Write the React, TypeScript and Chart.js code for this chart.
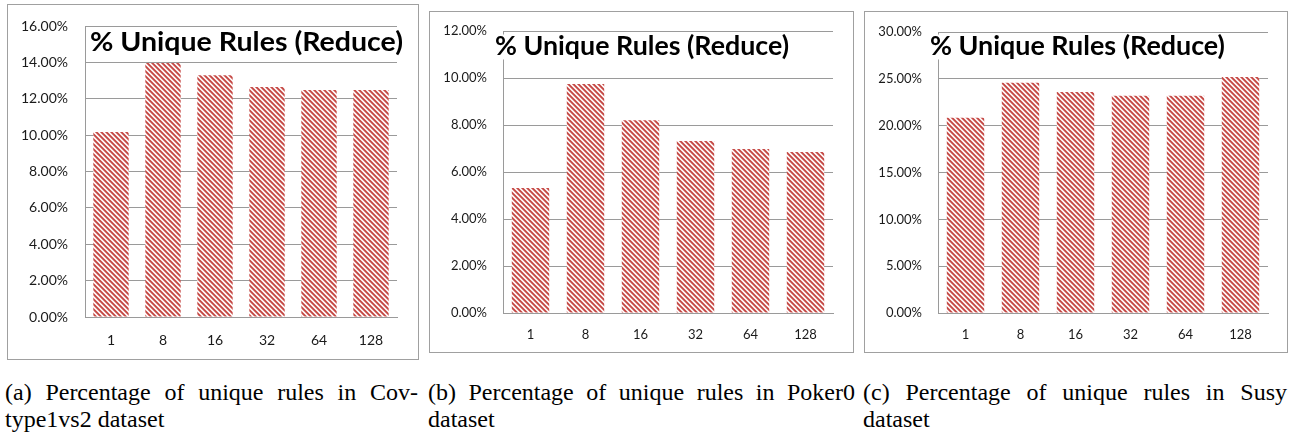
import React, { useEffect, useRef } from "react";
import { Chart, registerables } from "chart.js";

Chart.register(...registerables);

const categories = ["1", "8", "16", "32", "64", "128"];
const covtypeValues = [10.17, 13.97, 13.29, 12.65, 12.48, 12.48];
const pokerValues = [5.32, 9.74, 8.2, 7.32, 6.98, 6.85];
const susyValues = [20.85, 24.57, 23.6, 23.19, 23.19, 25.2];
const covtypeTicks = { max: 16, step: 2 };
const pokerTicks = { max: 12, step: 2 };
const susyTicks = { max: 30, step: 5 };
const chartTitle = "% Unique Rules (Reduce)";
const captionA = ["(a) Percentage of unique rules in Cov-", "type1vs2 dataset"];
const captionB = ["(b) Percentage of unique rules in Poker0", "dataset"];
const captionC = ["(c) Percentage of unique rules in Susy", "dataset"];

function makePattern(ctx: CanvasRenderingContext2D) {
  const P = 5;
  const t = document.createElement("canvas");
  t.width = P;
  t.height = P;
  const c = t.getContext("2d")!;
  const img = c.createImageData(P, P);
  const ss = 4;
  for (let y = 0; y < P; y++) {
    for (let x = 0; x < P; x++) {
      let cov = 0;
      for (let sy = 0; sy < ss; sy++) {
        for (let sx = 0; sx < ss; sx++) {
          const px = x + (sx + 0.5) / ss;
          const py = y + (sy + 0.5) / ss;
          const k = (((px - py) % P) + P) % P;
          if (k < 2.7) cov++;
        }
      }
      const a = cov / (ss * ss);
      const i = (y * P + x) * 4;
      img.data[i] = Math.round(255 + (0xc6 - 255) * a);
      img.data[i + 1] = Math.round(255 + (0x4a - 255) * a);
      img.data[i + 2] = Math.round(255 + (0x46 - 255) * a);
      img.data[i + 3] = 255;
    }
  }
  c.putImageData(img, 0, 0);
  return ctx.createPattern(t, "repeat")!;
}

type PanelProps = {
  values: number[];
  ticks: { max: number; step: number };
  box: { left: number; top: number; width: number; height: number };
  axisW: number;
  axisH: number;
  padT: number;
  padR: number;
  yPad: number;
  xPad: number;
  fontSize: number;
  title: { x: number; y: number; w: number; size: number };
};

function Panel(p: PanelProps) {
  const ref = useRef<HTMLCanvasElement>(null);
  useEffect(() => {
    const canvas = ref.current!;
    const ctx = canvas.getContext("2d")!;
    const pattern = makePattern(ctx);
    const titlePlugin = {
      id: "boxTitle",
      afterDraw(chart: any) {
        const c = chart.ctx as CanvasRenderingContext2D;
        c.save();
        c.font = `bold ${p.title.size}px Lato`;
        const m = c.measureText(chartTitle);
        const sx = p.title.w / m.width;
        c.fillStyle = "#fff";
        c.fillRect(p.title.x - 2, p.title.y - p.title.size * 0.48, p.title.w + 4, p.title.size * 0.96);
        c.translate(p.title.x, p.title.y);
        c.scale(sx, 1);
        c.fillStyle = "#000";
        c.textBaseline = "middle";
        c.textAlign = "left";
        c.fillText(chartTitle, 0, 0);
        c.restore();
      },
    };
    const chart = new Chart(canvas, {
      type: "bar",
      data: {
        labels: categories,
        datasets: [
          {
            data: p.values,
            backgroundColor: pattern as any,
            borderWidth: 0,
            categoryPercentage: 1,
            barPercentage: 0.68,
          },
        ],
      },
      options: {
        responsive: false,
        animation: false,
        devicePixelRatio: 1,
        layout: { padding: { left: 0, right: p.padR, top: p.padT, bottom: 0 } },
        plugins: { legend: { display: false }, tooltip: { enabled: false }, title: { display: false } },
        scales: {
          x: {
            grid: {
              drawOnChartArea: false,
              drawTicks: true,
              tickLength: p.xPad,
              tickColor: "rgba(0,0,0,0)",
            },
            border: { display: true, color: "#9a9a9a", width: 1 },
            ticks: {
              color: "#1a1a1a",
              padding: 0,
              font: { family: "Lato", size: p.fontSize },
              maxRotation: 0,
            },
            afterFit: (s: any) => {
              s.height = p.axisH;
            },
          },
          y: {
            min: 0,
            max: p.ticks.max,
            grid: {
              color: "#9a9a9a",
              drawTicks: true,
              tickLength: p.yPad,
              tickColor: "rgba(0,0,0,0)",
              lineWidth: 1,
            },
            border: { display: true, color: "#9a9a9a", width: 1 },
            ticks: {
              stepSize: p.ticks.step,
              color: "#1a1a1a",
              padding: 0,
              font: { family: "Lato", size: p.fontSize },
              callback: (v: any) => Number(v).toFixed(2) + "%",
            },
            afterFit: (s: any) => {
              s.width = p.axisW;
            },
          },
        },
      },
      plugins: [titlePlugin],
    });
    return () => chart.destroy();
  }, []);
  return (
    <div
      style={{
        position: "absolute",
        left: p.box.left,
        top: p.box.top,
        width: p.box.width,
        height: p.box.height,
        border: "1px solid #a0a0a0",
        background: "#fff",
      }}
    >
      <canvas ref={ref} width={p.box.width} height={p.box.height} style={{ display: "block" }} />
    </div>
  );
}

function Caption({ lines, left, width }: { lines: string[]; left: number; width: number }) {
  const base: React.CSSProperties = {
    fontFamily:
      "Liberation Serif, Tinos, Noto Serif, DejaVu Serif, FreeSerif, Times New Roman, Times, serif",
    fontSize: 24,
    lineHeight: "27px",
    color: "#000",
  };
  return (
    <div style={{ position: "absolute", left, top: 379, width, ...base }}>
      <div style={{ textAlign: "justify", textAlignLast: "justify" as any, whiteSpace: "nowrap" }}>
        {lines[0]}
      </div>
      <div style={{ textAlign: "left", whiteSpace: "nowrap" }}>{lines[1]}</div>
    </div>
  );
}

export default function App() {
  return (
    <div style={{ position: "absolute", left: 0, top: 0, width: 1291, height: 439, background: "#fff" }}>
      <Panel
        values={covtypeValues}
        ticks={covtypeTicks}
        box={{ left: 7, top: 4, width: 410, height: 354 }}
        axisW={77}
        axisH={42}
        padT={21}
        padR={21}
        yPad={17}
        xPad={15}
        fontSize={14}
        title={{ x: 82, y: 37, w: 313, size: 27 }}
      />
      <Panel
        values={pokerValues}
        ticks={pokerTicks}
        box={{ left: 429, top: 11, width: 423, height: 340 }}
        axisW={73}
        axisH={39}
        padT={19}
        padR={20}
        yPad={16}
        xPad={14}
        fontSize={13}
        title={{ x: 65, y: 35, w: 294, size: 26 }}
      />
      <Panel
        values={susyValues}
        ticks={susyTicks}
        box={{ left: 864, top: 11, width: 422, height: 340 }}
        axisW={73}
        axisH={39}
        padT={20}
        padR={19}
        yPad={16}
        xPad={14}
        fontSize={13}
        title={{ x: 65, y: 35, w: 295, size: 26 }}
      />
      <Caption lines={captionA} left={5} width={413} />
      <Caption lines={captionB} left={428} width={427} />
      <Caption lines={captionC} left={863} width={424} />
    </div>
  );
}
